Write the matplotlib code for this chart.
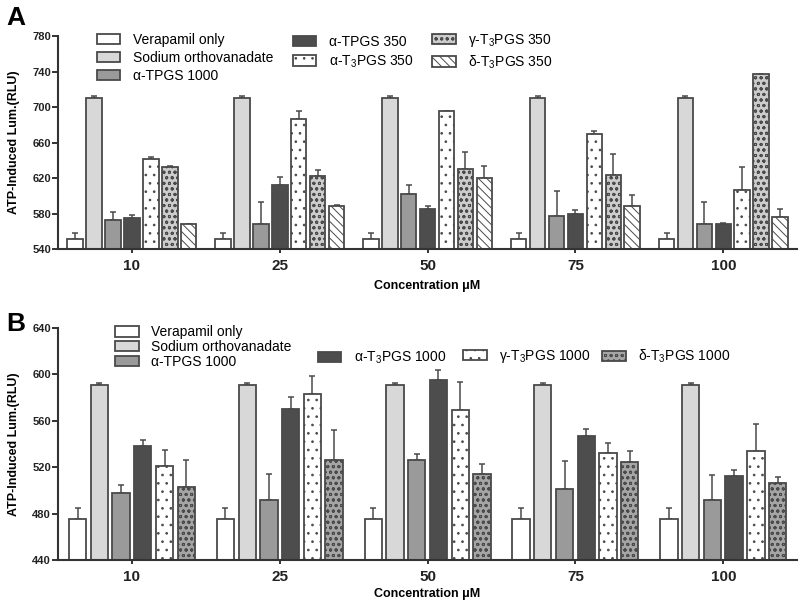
import numpy as np
import matplotlib
matplotlib.use('Agg')
import matplotlib.pyplot as plt
from matplotlib.patches import Patch

# значения
groups = ['10', '25', '50', '75', '100']

# панель A
a_names = ['Verapamil only', 'Sodium orthovanadate', 'α-TPGS 1000', 'α-TPGS 350',
           'α-T$_3$PGS 350', 'γ-T$_3$PGS 350', 'δ-T$_3$PGS 350']
a_vals = [
    [551, 551, 551, 551, 551],
    [710, 710, 710, 710, 710],
    [573, 568, 602, 577, 568],
    [575, 612, 585, 579, 568],
    [641, 687, 695, 670, 607],
    [632, 622, 630, 624, 737],
    [568, 588, 620, 589, 576],
]
a_errs = [
    [7, 7, 7, 7, 7],
    [3, 3, 3, 3, 3],
    [9, 25, 10, 28, 25],
    [3.5, 9, 4, 4.5, 1],
    [3, 9, 0.5, 3.5, 25],
    [1.5, 7.5, 19.5, 23, 0],
    [0.5, 2, 14, 11.5, 9],
]

# панель B
b_names = ['Verapamil only', 'Sodium orthovanadate', 'α-TPGS 1000',
           'α-T$_3$PGS 1000', 'γ-T$_3$PGS 1000', 'δ-T$_3$PGS 1000']
b_vals = [
    [475, 475, 475, 475, 475],
    [591, 591, 591, 591, 591],
    [498, 492, 526, 501, 492],
    [538, 570, 595, 547, 512],
    [521, 583, 569, 532, 534],
    [503, 526, 514, 524, 506],
]
b_errs = [
    [9.5, 9.5, 9.5, 9.5, 9.5],
    [1.6, 1.6, 1.6, 1.6, 1.6],
    [6.5, 22, 5, 24, 21.5],
    [5.5, 10, 8.5, 5.5, 5.5],
    [14, 15.5, 24, 8.5, 23.5],
    [23, 26, 9, 9.5, 5.5],
]

EDGE = '#4a4a4a'
plt.rcParams['font.family'] = ['Liberation Sans', 'DejaVu Sans']
plt.rcParams['mathtext.fontset'] = 'custom'
plt.rcParams['mathtext.rm'] = 'Liberation Sans'
plt.rcParams['mathtext.it'] = 'Liberation Sans:italic'
plt.rcParams['mathtext.bf'] = 'Liberation Sans:bold'
plt.rcParams['hatch.linewidth'] = 0.7

# стиль каждой серии: (заливка, штриховка)
a_styles = [('white', None), ('#d8d8d8', None), ('#9a9a9a', None), ('#4d4d4d', None),
            ('white', '..'), ('#cccccc', 'ooo'), ('white', '\\\\\\\\')]
b_styles = [('white', None), ('#d8d8d8', None), ('#9a9a9a', None), ('#4d4d4d', None),
            ('white', '..'), ('#a5a5a5', 'ooo')]

fig = plt.figure(figsize=(8, 6.06), dpi=100)
axA = fig.add_axes([0.0725, 0.589, 0.924, 0.3515])
axB = fig.add_axes([0.0725, 0.076, 0.924, 0.383])


def draw_panel(ax, vals, errs, styles, pitch, width, ylim, step, lpad):
    x = np.arange(len(groups))
    n = len(vals)
    handles = []
    for i in range(n):
        pos = x + (i - (n - 1) / 2) * pitch
        fc, h = styles[i]
        ax.bar(pos, vals[i], width=width, color=fc, edgecolor=EDGE, linewidth=1.3,
               hatch=h, zorder=2)
        lo = np.zeros(len(groups))
        ax.errorbar(pos, vals[i], yerr=[lo, errs[i]], fmt='none', ecolor=EDGE,
                    elinewidth=1.1, capsize=2.2, capthick=1.1, zorder=1)
        handles.append(Patch(facecolor=fc, edgecolor=EDGE, hatch=h, linewidth=1.3))
    ax.set_xlim(-0.5, 4.5)
    ax.set_ylim(*ylim)
    ax.set_yticks(np.arange(ylim[0], ylim[1] + 1, step))
    ax.set_xticks(x)
    ax.set_xticklabels(groups, fontsize=11, fontweight='bold')
    for lab in ax.get_yticklabels():
        lab.set_fontsize(8)
        lab.set_fontweight('bold')
    for s in ['top', 'right']:
        ax.spines[s].set_visible(False)
    for s in ['left', 'bottom']:
        ax.spines[s].set_linewidth(1.5)
        ax.spines[s].set_color('#333333')
    ax.tick_params(axis='y', direction='out', length=4, width=1.3, pad=1, colors='#222222')
    ax.tick_params(axis='x', direction='out', length=3, width=1.3, pad=4, colors='#222222')
    ax.set_xlabel('Concentration μM', fontsize=9, fontweight='bold', labelpad=lpad)
    ax.set_ylabel('ATP-Induced Lum.(RLU)', fontsize=9, fontweight='bold', labelpad=9)
    return handles


def add_legend(handles, labels, xy, spacing):
    # легенды кладём на фигуру, чтобы ни одна не рисовалась дважды
    fig.legend(handles, labels, loc='upper left', bbox_to_anchor=xy,
               bbox_transform=fig.transFigure, frameon=False, fontsize=10,
               handlelength=1.7, handleheight=0.75, handletextpad=0.9,
               labelspacing=spacing, borderpad=0, borderaxespad=0)


hA = draw_panel(axA, a_vals, a_errs, a_styles, 0.128, 0.105, (540, 780), 40, 5)
hB = draw_panel(axB, b_vals, b_errs, b_styles, 0.147, 0.117, (440, 640), 40, 3)

add_legend(hA[0:3], a_names[0:3], (0.121, 0.946), 0.3)
add_legend(hA[3:5], a_names[3:5], (0.366, 0.943), 0.35)
add_legend(hA[5:7], a_names[5:7], (0.540, 0.948), 0.35)

add_legend(hB[0:3], b_names[0:3], (0.144, 0.463), 0.05)
add_legend(hB[3:4], b_names[3:4], (0.397, 0.423), 0.1)
add_legend(hB[4:5], b_names[4:5], (0.579, 0.426), 0.1)
add_legend(hB[5:6], b_names[5:6], (0.7525, 0.426), 0.1)

fig.text(0.008, 0.99, 'A', fontsize=19, fontweight='bold', va='top')
fig.text(0.008, 0.485, 'B', fontsize=19, fontweight='bold', va='top')

fig.savefig('out.png', dpi=100)
